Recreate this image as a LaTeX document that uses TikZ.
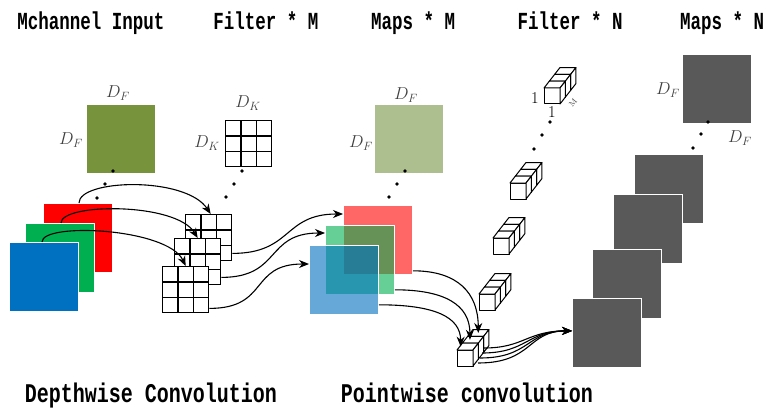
\documentclass[tikz,border=0pt]{standalone}
\usepackage{fontspec}
\newfontfamily\hdrfont{Liberation Mono}
\usetikzlibrary{arrows.meta,calc}
\definecolor{olive}{HTML}{77933C}
\definecolor{olivelt}{HTML}{ADBF8E}
\definecolor{chred}{HTML}{FF0000}
\definecolor{chgreen}{HTML}{00B050}
\definecolor{chblue}{HTML}{0070C0}
\definecolor{mapgray}{HTML}{595959}
\definecolor{lbl}{HTML}{404040}
\tikzset{
 sq/.style={rectangle, minimum width=69pt, minimum height=69pt, inner sep=0pt, anchor=north west, draw=white, line width=0.8pt},
 gridsq/.style={rectangle, minimum width=46pt, minimum height=46pt, inner sep=0pt, anchor=north west, draw=black, fill=white, line width=1.4pt},
 conn/.style={line width=1.1pt, -{Stealth[length=10pt,width=8pt]}},
 dotm/.style={circle, fill=black, inner sep=0pt, minimum size=3.8pt},
 dlabel/.style={text=lbl, font=\fontsize{16.5}{18}\selectfont, inner sep=0pt},
 hdr/.style={font=\hdrfont\bfseries\fontsize{17.5}{20}\selectfont, anchor=base, inner sep=0pt},
 ftr/.style={font=\hdrfont\bfseries\fontsize{20}{22}\selectfont, anchor=base, inner sep=0pt},
 cubeface/.style={draw=black, fill=white, line width=1pt, line join=round},
}
\newcommand{\kgrid}[3]{%
 \node[gridsq] (#1) at (#2,#3) {};
 \foreach \kk in {1,2} {
  \draw[line width=1.4pt] ($(#1.north west)!\kk/3!(#1.north east)$) -- ($(#1.south west)!\kk/3!(#1.south east)$);
  \draw[line width=1.4pt] ($(#1.north west)!\kk/3!(#1.south west)$) -- ($(#1.north east)!\kk/3!(#1.south east)$);
 }}
\newcommand{\cubestack}[3]{%
 \foreach \k in {2,1,0} {
  \pgfmathsetmacro\cx{#2+\k*5.3}
  \pgfmathsetmacro\cy{#3-\k*6.8}
  \draw[cubeface] (\cx,\cy) rectangle ++(16,16);
  \draw[cubeface] (\cx,\cy) -- ++(5.3,-6.8) -- ++(16,0) -- ++(-5.3,6.8) -- cycle;
  \draw[cubeface] (\cx+16,\cy) -- ++(5.3,-6.8) -- ++(0,16) -- ++(-5.3,6.8) -- cycle;
  \coordinate (#1-\k) at (\cx+10.65,\cy-3.4);
 }
 \node[inner sep=0pt, minimum size=16pt, anchor=north west] (#1) at (#2,#3) {};
}
\begin{document}
\begin{tikzpicture}[x=1pt,y=-1pt]
\useasboundingbox[fill=white] (0,0) rectangle (767,409);
% headers
\node[hdr] (h1) at (91,30) {\scalebox{1}[1.4]{Mchannel Input}};
\node[hdr] (h2) at (266,30) {\scalebox{1}[1.4]{Filter * M}};
\node[hdr] (h3) at (413,30) {\scalebox{1}[1.4]{Maps * M}};
\node[hdr] (h4) at (570,30) {\scalebox{1}[1.4]{Filter * N}};
\node[hdr] (h5) at (722,30) {\scalebox{1}[1.4]{Maps * N}};
\node[ftr] (f1) at (151,402) {\scalebox{1}[1.35]{Depthwise Convolution}};
\node[ftr] (f2) at (467,402) {\scalebox{1}[1.35]{Pointwise convolution}};
% input
\node[sq, fill=olive] (inM) at (86,104) {};
\node[dlabel] (inl1) at (118,93) {$D_F$};
\node[dlabel] (inl2) at (71,140) {$D_F$};
\node[dotm] (ind1) at (113,171) {};
\node[dotm] (ind2) at (105,184) {};
\node[dotm] (ind3) at (97,198) {};
\node[sq, fill=chred] (red) at (43,203) {};
\node[sq, fill=chgreen] (green) at (25,223) {};
\node[sq, fill=chblue] (blue) at (9,242) {};
% depthwise filters
\kgrid{gT}{225}{120}
\node[dlabel] (fl1) at (248,103) {$D_K$};
\node[dlabel] (fl2) at (207,143) {$D_K$};
\node[dotm] (fd1) at (242,171) {};
\node[dotm] (fd2) at (234,184) {};
\node[dotm] (fd3) at (226,197) {};
\kgrid{gA}{185}{214}
\kgrid{gB}{174}{238}
\kgrid{gC}{162}{266}
% maps M
\node[sq, fill=olivelt] (mM) at (374,104) {};
\node[dlabel] (ml1) at (406,95) {$D_F$};
\node[dlabel] (ml2) at (361,143) {$D_F$};
\node[dotm] (md1) at (405,171) {};
\node[dotm] (md2) at (397,184) {};
\node[dotm] (md3) at (389,197) {};
\node[sq, fill=chred, fill opacity=0.6] (mred) at (343,205) {};
\node[sq, fill=chgreen, fill opacity=0.6] (mgreen) at (325,225) {};
\node[sq, fill=chblue, fill opacity=0.6] (mblue) at (309,245) {};
% pointwise filters
\cubestack{cT}{544}{88}
\node[dlabel, text=black] (c1a) at (535,98) {1};
\node[dlabel, text=black] (c1b) at (552,112) {1};
\node[text=lbl, font=\fontsize{8}{9}\selectfont, inner sep=0pt, rotate=50] (cM) at (573,103) {M};
\node[dotm] (cd1) at (550,122) {};
\node[dotm] (cd2) at (542,135) {};
\node[dotm] (cd3) at (534,149) {};
\cubestack{c2}{510}{183}
\cubestack{c3}{493}{238}
\cubestack{c4}{479}{294}
\cubestack{bs}{457}{350}
% maps N
\node[sq, fill=mapgray] (mN1) at (682,54) {};
\node[dlabel] (nl1) at (668,90) {$D_F$};
\node[dlabel] (nl2) at (740,138) {$D_F$};
\node[dotm] (nd1) at (708,122) {};
\node[dotm] (nd2) at (701,134) {};
\node[dotm] (nd3) at (693,148) {};
\node[sq, fill=mapgray] (mN2) at (634,154) {};
\node[sq, fill=mapgray] (mN3) at (613,194) {};
\node[sq, fill=mapgray] (mN4) at (592,249) {};
\node[sq, fill=mapgray] (mN5) at (572,298) {};
% arrows input -> filters
\draw[conn] ([xshift=36pt]red.north west) .. controls +(0,-24) and +(-25,-38) .. ([xshift=2pt]gA.north);
\draw[conn] ([xshift=36pt]green.north west) .. controls +(0,-20) and +(-22,-36) .. (gB.north);
\draw[conn] ([xshift=33pt]blue.north west) .. controls +(0,-20) and +(-18,-38) .. (gC.north);
% filters -> maps M
\draw[conn] ([yshift=8pt]gA.south east) .. controls +(60,0) and +(-60,0) .. ([yshift=-9pt]mred.north west);
\draw[conn] ([yshift=8pt]gB.south east) .. controls +(60,0) and +(-60,0) .. ([yshift=-8pt]mgreen.north west);
\draw[conn] ([yshift=5pt]gC.south east) .. controls +(60,0) and +(-60,0) .. ([yshift=-19pt]mblue.north west);
% maps M -> pointwise
\draw[conn] ([yshift=4pt]mred.south east) .. controls +(45,0) and +(0,-40) .. (bs-2);
\draw[conn] ([yshift=5pt]mgreen.south east) .. controls +(50,0) and +(0,-35) .. ([xshift=-3pt]bs-1);
\draw[conn] ([yshift=10pt]mblue.south east) .. controls +(55,0) and +(0,-30) .. ([xshift=-7pt]bs-0);
% pointwise -> maps N
\draw[conn] ([shift={(27,-2)}]bs.north west) .. controls +(40,0) and +(-45,0) .. ([yshift=2pt]mN5.west);
\draw[conn] ([shift={(25,3)}]bs.north west) .. controls +(45,0) and +(-45,0) .. ([yshift=2pt]mN5.west);
\draw[conn] ([shift={(23,8)}]bs.north west) .. controls +(50,0) and +(-45,0) .. ([yshift=2pt]mN5.west);
\draw[conn] ([shift={(21,13)}]bs.north west) .. controls +(55,0) and +(-45,0) .. ([yshift=2pt]mN5.west);
\end{tikzpicture}
\end{document}
